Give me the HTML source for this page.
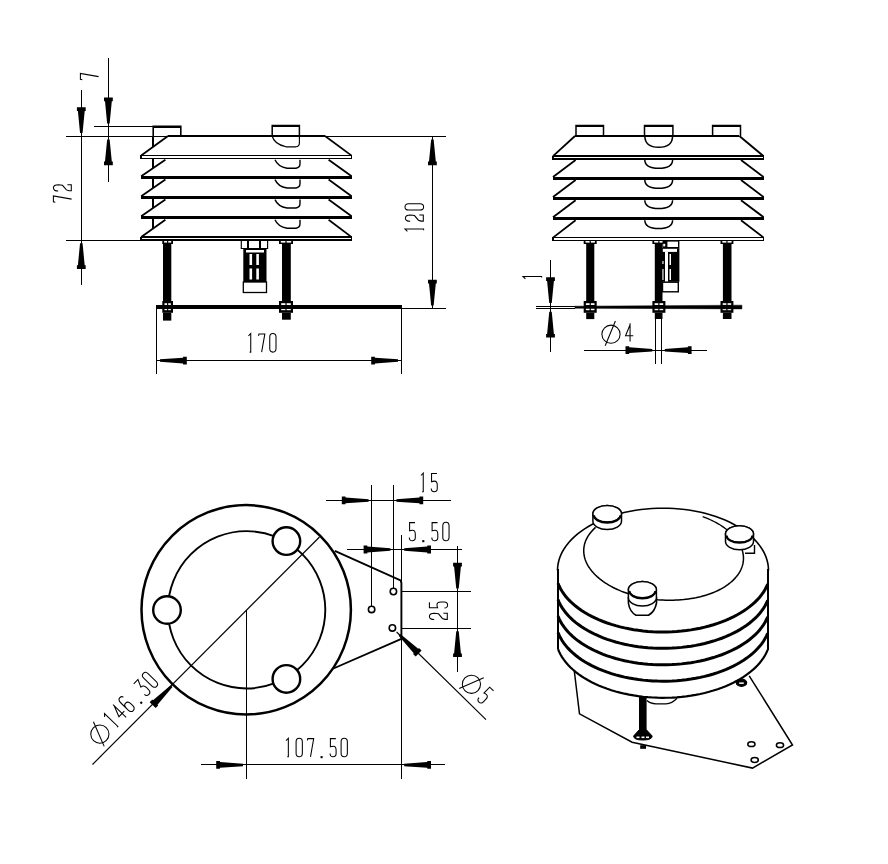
<!DOCTYPE html>
<html><head><meta charset="utf-8"><style>
html,body{margin:0;padding:0;background:#fff;font-family:"Liberation Sans",sans-serif;width:888px;height:864px;overflow:hidden}
svg{display:block}
</style></head><body>
<svg width="888" height="864" viewBox="0 0 888 864">
<rect x="0" y="0" width="888" height="864" fill="#fff"/>
<g stroke="#000" fill="none" stroke-linecap="butt" stroke-linejoin="miter">
<line x1="108.40" y1="58.00" x2="108.40" y2="181.50" stroke-width="1.15" shape-rendering="crispEdges"/>
<polygon points="109.65,123.40 111.80,101.30 112.80,101.30 112.80,97.60 104.00,97.60 104.00,101.30 105.00,101.30 107.15,123.40" fill="#000" stroke="none"/>
<polygon points="107.15,139.40 105.00,161.50 104.00,161.50 104.00,165.20 112.80,165.20 112.80,161.50 111.80,161.50 109.65,139.40" fill="#000" stroke="none"/>
<line x1="94.00" y1="126.40" x2="153.00" y2="126.40" stroke-width="1.15" shape-rendering="crispEdges"/>
<g transform="translate(80.00,80.00) rotate(-90)" stroke-width="1.05"><path d="M0,2.3 L0.5,0.4 L6.9,0.4 L3.4,18.6" transform="translate(0.25,0) scale(0.92,1)" fill="none" vector-effect="non-scaling-stroke"/></g>
<line x1="81.30" y1="90.00" x2="81.30" y2="284.80" stroke-width="1.15" shape-rendering="crispEdges"/>
<polygon points="82.55,133.00 84.70,110.90 85.70,110.90 85.70,107.20 76.90,107.20 76.90,110.90 77.90,110.90 80.05,133.00" fill="#000" stroke="none"/>
<polygon points="80.05,243.20 77.90,265.30 76.90,265.30 76.90,269.00 85.70,269.00 85.70,265.30 84.70,265.30 82.55,243.20" fill="#000" stroke="none"/>
<line x1="66.00" y1="136.30" x2="168.00" y2="136.30" stroke-width="1.15" shape-rendering="crispEdges"/>
<line x1="66.00" y1="240.20" x2="141.00" y2="240.20" stroke-width="1.15" shape-rendering="crispEdges"/>
<g transform="translate(53.00,202.50) rotate(-90)" stroke-width="1.05"><path d="M0,2.3 L0.5,0.4 L6.9,0.4 L3.4,18.6" transform="translate(0.25,0) scale(0.92,1)" fill="none" vector-effect="non-scaling-stroke"/><path d="M0,5.2 Q0,0.4 3.4,0.4 Q6.9,0.4 6.9,5.4 L6.2,9.5 L1.2,13.4 L0.2,16 L0.2,18.3 L6.9,18.3 L6.9,14.4" transform="translate(11.50,0) scale(0.92,1)" fill="none" vector-effect="non-scaling-stroke"/></g>
<path d="M153.2,136 L153.2,126.4 L180.8,126.4 L180.8,136" stroke-width="1.6" fill="none"/>
<line x1="153.50" y1="126.60" x2="180.50" y2="126.60" stroke-width="2.0" shape-rendering="crispEdges"/>
<path d="M272.2,136 L272.2,125.6 L299.4,125.6 L299.4,136" stroke-width="1.5" fill="none"/>
<line x1="272.50" y1="125.80" x2="299.10" y2="125.80" stroke-width="2.0" shape-rendering="crispEdges"/>
<path d="M272.2,136 Q274,144 286,146.8 L296,146.8 Q299.4,146.5 299.4,143 L299.4,136" stroke-width="1.15" fill="none"/>
<line x1="168.00" y1="136.00" x2="325.00" y2="136.00" stroke-width="1.6" shape-rendering="crispEdges"/>
<line x1="168.00" y1="136.00" x2="141.20" y2="155.60" stroke-width="1.8"/>
<line x1="325.00" y1="136.00" x2="351.60" y2="155.60" stroke-width="1.8"/>
<line x1="141.00" y1="155.60" x2="351.80" y2="155.60" stroke-width="1.6" shape-rendering="crispEdges"/>
<line x1="141.00" y1="158.60" x2="351.80" y2="158.60" stroke-width="1.6" shape-rendering="crispEdges"/>
<line x1="141.00" y1="155.00" x2="141.00" y2="159.20" stroke-width="1.4" shape-rendering="crispEdges"/>
<line x1="351.60" y1="155.00" x2="351.60" y2="159.20" stroke-width="1.4" shape-rendering="crispEdges"/>
<line x1="153.30" y1="158.50" x2="153.30" y2="168.00" stroke-width="1.8" shape-rendering="crispEdges"/>
<line x1="165.40" y1="159.80" x2="141.20" y2="176.20" stroke-width="1.8"/>
<line x1="328.60" y1="159.80" x2="351.60" y2="176.20" stroke-width="1.8"/>
<line x1="140.50" y1="177.60" x2="352.00" y2="177.60" stroke-width="3.3" shape-rendering="crispEdges"/>
<line x1="153.30" y1="179.10" x2="153.30" y2="187.90" stroke-width="1.8" shape-rendering="crispEdges"/>
<path d="M275,159.8 Q278,166.8 287,168.2 L296,168.2 Q300,167.8 300,163.8 L300,159.8" stroke-width="1.4" fill="none"/>
<line x1="165.40" y1="179.60" x2="141.20" y2="196.20" stroke-width="1.8"/>
<line x1="328.60" y1="179.60" x2="351.60" y2="196.20" stroke-width="1.8"/>
<line x1="140.50" y1="197.60" x2="352.00" y2="197.60" stroke-width="3.3" shape-rendering="crispEdges"/>
<line x1="153.30" y1="199.10" x2="153.30" y2="207.95" stroke-width="1.8" shape-rendering="crispEdges"/>
<path d="M275,179.6 Q278,186.6 287,188.0 L296,188.0 Q300,187.6 300,183.6 L300,179.6" stroke-width="1.4" fill="none"/>
<line x1="165.40" y1="199.60" x2="141.20" y2="216.30" stroke-width="1.8"/>
<line x1="328.60" y1="199.60" x2="351.60" y2="216.30" stroke-width="1.8"/>
<line x1="140.50" y1="217.70" x2="352.00" y2="217.70" stroke-width="3.3" shape-rendering="crispEdges"/>
<line x1="153.30" y1="219.20" x2="153.30" y2="228.45" stroke-width="1.8" shape-rendering="crispEdges"/>
<path d="M275,199.6 Q278,206.6 287,208.0 L296,208.0 Q300,207.6 300,203.6 L300,199.6" stroke-width="1.4" fill="none"/>
<line x1="165.40" y1="219.80" x2="141.20" y2="237.10" stroke-width="1.8"/>
<line x1="328.60" y1="219.80" x2="351.60" y2="237.10" stroke-width="1.8"/>
<line x1="141.00" y1="237.10" x2="351.80" y2="237.10" stroke-width="1.6" shape-rendering="crispEdges"/>
<line x1="141.00" y1="240.10" x2="351.80" y2="240.10" stroke-width="1.6" shape-rendering="crispEdges"/>
<line x1="141.00" y1="236.50" x2="141.00" y2="240.70" stroke-width="1.4" shape-rendering="crispEdges"/>
<line x1="351.60" y1="236.50" x2="351.60" y2="240.70" stroke-width="1.4" shape-rendering="crispEdges"/>
<path d="M275,219.8 Q278,226.8 287,228.2 L296,228.2 Q300,227.8 300,223.8 L300,219.8" stroke-width="1.4" fill="none"/>
<line x1="153.30" y1="136.00" x2="153.30" y2="146.60" stroke-width="1.8" shape-rendering="crispEdges"/>
<rect x="162.30" y="240.00" width="10.70" height="4.00" fill="#000" stroke="none" stroke-width="0"/>
<rect x="163.00" y="244.00" width="8.30" height="57.00" fill="#000" stroke="none" stroke-width="0"/>
<rect x="162.30" y="301.00" width="10.70" height="11.80" fill="#000" stroke="none" stroke-width="0"/>
<rect x="163.00" y="312.80" width="8.30" height="7.80" fill="#000" stroke="none" stroke-width="0"/>
<rect x="164.10" y="241.00" width="2.95" height="1.60" fill="#fff" stroke="none" stroke-width="0"/>
<rect x="168.25" y="241.00" width="2.95" height="1.60" fill="#fff" stroke="none" stroke-width="0"/>
<rect x="164.50" y="303.20" width="2.55" height="1.80" fill="#fff" stroke="none" stroke-width="0"/>
<rect x="168.25" y="303.20" width="2.55" height="1.80" fill="#fff" stroke="none" stroke-width="0"/>
<rect x="164.50" y="308.40" width="2.55" height="1.80" fill="#fff" stroke="none" stroke-width="0"/>
<rect x="168.25" y="308.40" width="2.55" height="1.80" fill="#fff" stroke="none" stroke-width="0"/>
<rect x="279.00" y="240.00" width="14.00" height="4.00" fill="#000" stroke="none" stroke-width="0"/>
<rect x="282.00" y="244.00" width="8.80" height="57.00" fill="#000" stroke="none" stroke-width="0"/>
<rect x="279.00" y="301.00" width="14.00" height="11.80" fill="#000" stroke="none" stroke-width="0"/>
<rect x="282.00" y="312.80" width="8.80" height="6.90" fill="#000" stroke="none" stroke-width="0"/>
<rect x="280.80" y="241.00" width="4.60" height="1.60" fill="#fff" stroke="none" stroke-width="0"/>
<rect x="286.60" y="241.00" width="4.60" height="1.60" fill="#fff" stroke="none" stroke-width="0"/>
<rect x="281.20" y="303.20" width="4.20" height="1.80" fill="#fff" stroke="none" stroke-width="0"/>
<rect x="286.60" y="303.20" width="4.20" height="1.80" fill="#fff" stroke="none" stroke-width="0"/>
<rect x="281.20" y="308.40" width="4.20" height="1.80" fill="#fff" stroke="none" stroke-width="0"/>
<rect x="286.60" y="308.40" width="4.20" height="1.80" fill="#fff" stroke="none" stroke-width="0"/>
<path d="M241.3,240 L241.3,248.5 L267.6,248.5 L267.6,240" stroke-width="1.15" fill="none"/>
<line x1="248.00" y1="240.00" x2="248.00" y2="248.50" stroke-width="1.15" shape-rendering="crispEdges"/>
<line x1="260.00" y1="240.00" x2="260.00" y2="248.50" stroke-width="1.15" shape-rendering="crispEdges"/>
<rect x="243.30" y="248.50" width="23.20" height="34.00" fill="#000" stroke="none" stroke-width="0"/>
<rect x="243.30" y="282.00" width="23.20" height="10.50" fill="#fff" stroke="#000" stroke-width="1.3"/>
<rect x="249.50" y="254.00" width="2.60" height="11.00" fill="#fff" stroke="none" stroke-width="0"/>
<rect x="256.30" y="254.00" width="2.60" height="11.00" fill="#fff" stroke="none" stroke-width="0"/>
<rect x="249.50" y="268.50" width="2.60" height="11.00" fill="#fff" stroke="none" stroke-width="0"/>
<rect x="256.30" y="268.50" width="2.60" height="11.00" fill="#fff" stroke="none" stroke-width="0"/>
<rect x="246.00" y="250.00" width="18.00" height="2.50" fill="#fff" stroke="none" stroke-width="0"/>
<line x1="155.60" y1="307.00" x2="401.80" y2="307.00" stroke-width="3.6" shape-rendering="crispEdges"/>
<line x1="325.00" y1="136.40" x2="446.00" y2="136.40" stroke-width="1.15" shape-rendering="crispEdges"/>
<line x1="401.80" y1="308.30" x2="446.00" y2="308.30" stroke-width="1.15" shape-rendering="crispEdges"/>
<line x1="432.40" y1="136.40" x2="432.40" y2="308.30" stroke-width="1.15" shape-rendering="crispEdges"/>
<polygon points="431.15,139.40 429.00,161.50 428.00,161.50 428.00,165.20 436.80,165.20 436.80,161.50 435.80,161.50 433.65,139.40" fill="#000" stroke="none"/>
<polygon points="433.65,305.50 435.80,283.40 436.80,283.40 436.80,279.70 428.00,279.70 428.00,283.40 429.00,283.40 431.15,305.50" fill="#000" stroke="none"/>
<g transform="translate(405.00,232.80) rotate(-90)" stroke-width="1.05"><path d="M1.3,2.4 L3.8,0 L3.8,18.6 L2.6,18.6" transform="translate(0.25,0) scale(0.92,1)" fill="none" vector-effect="non-scaling-stroke"/><path d="M0,5.2 Q0,0.4 3.4,0.4 Q6.9,0.4 6.9,5.4 L6.2,9.5 L1.2,13.4 L0.2,16 L0.2,18.3 L6.9,18.3 L6.9,14.4" transform="translate(11.50,0) scale(0.92,1)" fill="none" vector-effect="non-scaling-stroke"/><path d="M0,3.6 Q0,0 3.4,0 Q6.8,0 6.8,3.6 L6.8,15 Q6.8,18.6 3.4,18.6 Q0,18.6 0,15 Z" transform="translate(22.75,0) scale(0.92,1)" fill="none" vector-effect="non-scaling-stroke"/></g>
<line x1="156.80" y1="307.00" x2="156.80" y2="373.60" stroke-width="1.15" shape-rendering="crispEdges"/>
<line x1="401.50" y1="308.00" x2="401.50" y2="373.60" stroke-width="1.15" shape-rendering="crispEdges"/>
<line x1="156.80" y1="360.60" x2="401.50" y2="360.60" stroke-width="1.15" shape-rendering="crispEdges"/>
<polygon points="160.00,361.85 183.10,363.50 183.10,364.50 186.80,364.50 186.80,356.70 183.10,356.70 183.10,357.70 160.00,359.35" fill="#000" stroke="none"/>
<polygon points="398.00,359.35 374.90,357.70 374.90,356.70 371.20,356.70 371.20,364.50 374.90,364.50 374.90,363.50 398.00,361.85" fill="#000" stroke="none"/>
<g transform="translate(247.00,333.50) rotate(0)" stroke-width="1.05"><path d="M1.3,2.4 L3.8,0 L3.8,18.6 L2.6,18.6" transform="translate(0.25,0) scale(0.92,1)" fill="none" vector-effect="non-scaling-stroke"/><path d="M0,2.3 L0.5,0.4 L6.9,0.4 L3.4,18.6" transform="translate(11.50,0) scale(0.92,1)" fill="none" vector-effect="non-scaling-stroke"/><path d="M0,3.6 Q0,0 3.4,0 Q6.8,0 6.8,3.6 L6.8,15 Q6.8,18.6 3.4,18.6 Q0,18.6 0,15 Z" transform="translate(22.75,0) scale(0.92,1)" fill="none" vector-effect="non-scaling-stroke"/></g>
<path d="M576,136 L576,125.6 L603.5,125.6 L603.5,136" stroke-width="1.5" fill="none"/>
<line x1="576.30" y1="125.80" x2="603.20" y2="125.80" stroke-width="2.0" shape-rendering="crispEdges"/>
<path d="M644.5,136 L644.5,125.6 L672.9,125.6 L672.9,136" stroke-width="1.5" fill="none"/>
<line x1="644.80" y1="125.80" x2="672.60" y2="125.80" stroke-width="2.0" shape-rendering="crispEdges"/>
<path d="M712.6,136 L712.6,125.6 L740.5,125.6 L740.5,136" stroke-width="1.5" fill="none"/>
<line x1="712.90" y1="125.80" x2="740.20" y2="125.80" stroke-width="2.0" shape-rendering="crispEdges"/>
<line x1="575.00" y1="136.00" x2="739.40" y2="136.00" stroke-width="1.6" shape-rendering="crispEdges"/>
<line x1="575.00" y1="136.00" x2="553.00" y2="156.20" stroke-width="1.8"/>
<line x1="739.40" y1="136.00" x2="763.60" y2="156.20" stroke-width="1.8"/>
<line x1="553.00" y1="156.20" x2="763.80" y2="156.20" stroke-width="1.6" shape-rendering="crispEdges"/>
<line x1="553.00" y1="159.20" x2="763.80" y2="159.20" stroke-width="1.6" shape-rendering="crispEdges"/>
<line x1="553.00" y1="155.60" x2="553.00" y2="159.80" stroke-width="1.4" shape-rendering="crispEdges"/>
<line x1="763.60" y1="155.60" x2="763.60" y2="159.80" stroke-width="1.4" shape-rendering="crispEdges"/>
<path d="M644.8,136.0 Q645,147.3 658.7,147.3 Q672.5,147.3 672.6,136.0" stroke-width="1.5" fill="none"/>
<line x1="575.60" y1="160.00" x2="553.00" y2="177.00" stroke-width="1.8"/>
<line x1="741.00" y1="160.00" x2="763.60" y2="177.00" stroke-width="1.8"/>
<line x1="552.50" y1="178.40" x2="764.00" y2="178.40" stroke-width="3.3" shape-rendering="crispEdges"/>
<path d="M644.8,160.0 Q645,168.3 658.7,168.3 Q672.5,168.3 672.6,160.0" stroke-width="1.5" fill="none"/>
<line x1="575.60" y1="180.00" x2="553.00" y2="197.00" stroke-width="1.8"/>
<line x1="741.00" y1="180.00" x2="763.60" y2="197.00" stroke-width="1.8"/>
<line x1="552.50" y1="198.40" x2="764.00" y2="198.40" stroke-width="3.3" shape-rendering="crispEdges"/>
<path d="M644.8,180.0 Q645,188.3 658.7,188.3 Q672.5,188.3 672.6,180.0" stroke-width="1.5" fill="none"/>
<line x1="575.60" y1="200.20" x2="553.00" y2="217.20" stroke-width="1.8"/>
<line x1="741.00" y1="200.20" x2="763.60" y2="217.20" stroke-width="1.8"/>
<line x1="552.50" y1="218.60" x2="764.00" y2="218.60" stroke-width="3.3" shape-rendering="crispEdges"/>
<path d="M644.8,200.2 Q645,208.5 658.7,208.5 Q672.5,208.5 672.6,200.2" stroke-width="1.5" fill="none"/>
<line x1="575.60" y1="220.20" x2="553.00" y2="237.60" stroke-width="1.8"/>
<line x1="741.00" y1="220.20" x2="763.60" y2="237.60" stroke-width="1.8"/>
<line x1="553.00" y1="237.60" x2="763.80" y2="237.60" stroke-width="1.6" shape-rendering="crispEdges"/>
<line x1="553.00" y1="240.60" x2="763.80" y2="240.60" stroke-width="1.6" shape-rendering="crispEdges"/>
<line x1="553.00" y1="237.00" x2="553.00" y2="241.20" stroke-width="1.4" shape-rendering="crispEdges"/>
<line x1="763.60" y1="237.00" x2="763.60" y2="241.20" stroke-width="1.4" shape-rendering="crispEdges"/>
<path d="M644.8,220.2 Q645,228.5 658.7,228.5 Q672.5,228.5 672.6,220.2" stroke-width="1.5" fill="none"/>
<rect x="583.70" y="240.00" width="13.00" height="4.00" fill="#000" stroke="none" stroke-width="0"/>
<rect x="586.20" y="244.00" width="8.10" height="57.00" fill="#000" stroke="none" stroke-width="0"/>
<rect x="583.70" y="301.00" width="13.00" height="11.80" fill="#000" stroke="none" stroke-width="0"/>
<rect x="586.20" y="312.80" width="8.10" height="6.30" fill="#000" stroke="none" stroke-width="0"/>
<rect x="585.50" y="241.00" width="4.10" height="1.60" fill="#fff" stroke="none" stroke-width="0"/>
<rect x="590.80" y="241.00" width="4.10" height="1.60" fill="#fff" stroke="none" stroke-width="0"/>
<rect x="585.90" y="303.20" width="3.70" height="1.80" fill="#fff" stroke="none" stroke-width="0"/>
<rect x="590.80" y="303.20" width="3.70" height="1.80" fill="#fff" stroke="none" stroke-width="0"/>
<rect x="585.90" y="308.40" width="3.70" height="1.80" fill="#fff" stroke="none" stroke-width="0"/>
<rect x="590.80" y="308.40" width="3.70" height="1.80" fill="#fff" stroke="none" stroke-width="0"/>
<rect x="652.40" y="240.00" width="13.00" height="4.00" fill="#000" stroke="none" stroke-width="0"/>
<rect x="654.80" y="244.00" width="7.70" height="57.00" fill="#000" stroke="none" stroke-width="0"/>
<rect x="652.40" y="301.00" width="13.00" height="11.80" fill="#000" stroke="none" stroke-width="0"/>
<rect x="654.80" y="312.80" width="7.70" height="6.20" fill="#000" stroke="none" stroke-width="0"/>
<rect x="654.20" y="241.00" width="4.10" height="1.60" fill="#fff" stroke="none" stroke-width="0"/>
<rect x="659.50" y="241.00" width="4.10" height="1.60" fill="#fff" stroke="none" stroke-width="0"/>
<rect x="654.60" y="303.20" width="3.70" height="1.80" fill="#fff" stroke="none" stroke-width="0"/>
<rect x="659.50" y="303.20" width="3.70" height="1.80" fill="#fff" stroke="none" stroke-width="0"/>
<rect x="654.60" y="308.40" width="3.70" height="1.80" fill="#fff" stroke="none" stroke-width="0"/>
<rect x="659.50" y="308.40" width="3.70" height="1.80" fill="#fff" stroke="none" stroke-width="0"/>
<rect x="720.50" y="240.00" width="12.90" height="4.00" fill="#000" stroke="none" stroke-width="0"/>
<rect x="722.90" y="244.00" width="8.60" height="57.00" fill="#000" stroke="none" stroke-width="0"/>
<rect x="720.50" y="301.00" width="12.90" height="11.80" fill="#000" stroke="none" stroke-width="0"/>
<rect x="722.90" y="312.80" width="8.60" height="6.20" fill="#000" stroke="none" stroke-width="0"/>
<rect x="722.30" y="241.00" width="4.05" height="1.60" fill="#fff" stroke="none" stroke-width="0"/>
<rect x="727.55" y="241.00" width="4.05" height="1.60" fill="#fff" stroke="none" stroke-width="0"/>
<rect x="722.70" y="303.20" width="3.65" height="1.80" fill="#fff" stroke="none" stroke-width="0"/>
<rect x="727.55" y="303.20" width="3.65" height="1.80" fill="#fff" stroke="none" stroke-width="0"/>
<rect x="722.70" y="308.40" width="3.65" height="1.80" fill="#fff" stroke="none" stroke-width="0"/>
<rect x="727.55" y="308.40" width="3.65" height="1.80" fill="#fff" stroke="none" stroke-width="0"/>
<rect x="662.50" y="240.00" width="4.50" height="8.50" fill="#000" stroke="none" stroke-width="0"/>
<rect x="663.20" y="243.80" width="2.00" height="2.60" fill="#fff" stroke="none" stroke-width="0"/>
<rect x="666.70" y="240.90" width="12.00" height="6.80" fill="#fff" stroke="#000" stroke-width="1.4"/>
<rect x="661.80" y="248.20" width="17.60" height="33.60" fill="#000" stroke="none" stroke-width="0"/>
<rect x="662.80" y="248.90" width="14.20" height="3.00" fill="#fff" stroke="none" stroke-width="0"/>
<rect x="665.00" y="252.00" width="3.00" height="29.80" fill="#fff" stroke="none" stroke-width="0"/>
<rect x="662.40" y="261.00" width="1.10" height="3.00" fill="#fff" stroke="none" stroke-width="0"/>
<rect x="662.40" y="269.00" width="1.10" height="11.00" fill="#fff" stroke="none" stroke-width="0"/>
<rect x="669.50" y="254.00" width="1.50" height="11.00" fill="#fff" stroke="none" stroke-width="0"/>
<rect x="669.50" y="269.00" width="1.50" height="11.00" fill="#fff" stroke="none" stroke-width="0"/>
<rect x="662.50" y="282.20" width="15.80" height="9.60" fill="#fff" stroke="#000" stroke-width="1.4"/>
<path d="M575,306.2 L741.9,305.2 L741.9,308.9 L575,308.2 Z" stroke-width="0.5" fill="#000"/>
<line x1="536.00" y1="306.20" x2="575.00" y2="306.20" stroke-width="1.15" shape-rendering="crispEdges"/>
<line x1="536.00" y1="308.60" x2="575.00" y2="308.60" stroke-width="1.15" shape-rendering="crispEdges"/>
<line x1="550.50" y1="260.00" x2="550.50" y2="352.40" stroke-width="1.15" shape-rendering="crispEdges"/>
<polygon points="551.75,303.00 553.90,280.90 554.90,280.90 554.90,277.20 546.10,277.20 546.10,280.90 547.10,280.90 549.25,303.00" fill="#000" stroke="none"/>
<polygon points="549.25,311.80 547.10,333.90 546.10,333.90 546.10,337.60 554.90,337.60 554.90,333.90 553.90,333.90 551.75,311.80" fill="#000" stroke="none"/>
<g transform="translate(523.00,280.20) rotate(-90)" stroke-width="1.05"><path d="M1.3,2.4 L3.8,0 L3.8,18.6 L2.6,18.6" transform="translate(0.25,0) scale(0.92,1)" fill="none" vector-effect="non-scaling-stroke"/></g>
<line x1="655.30" y1="319.00" x2="655.30" y2="363.70" stroke-width="1.15" shape-rendering="crispEdges"/>
<line x1="661.80" y1="319.00" x2="661.80" y2="363.70" stroke-width="1.15" shape-rendering="crispEdges"/>
<line x1="584.20" y1="350.20" x2="706.70" y2="350.20" stroke-width="1.15" shape-rendering="crispEdges"/>
<polygon points="652.30,348.95 629.20,347.30 629.20,346.30 625.50,346.30 625.50,354.10 629.20,354.10 629.20,353.10 652.30,351.45" fill="#000" stroke="none"/>
<polygon points="664.80,351.45 687.90,353.10 687.90,354.10 691.60,354.10 691.60,346.30 687.90,346.30 687.90,347.30 664.80,348.95" fill="#000" stroke="none"/>
<g transform="translate(602.00,323.20) rotate(0)" stroke-width="1.05"><circle cx="9.00" cy="11" r="9.1" fill="none"/><path d="M3.20,22.6 L13.40,-2.2" fill="none"/><path d="M4.9,0 L4.9,18.3 M4.9,1.6 L0,12.6 L8.4,12.6" transform="translate(23.55,0) scale(0.92,1)" fill="none" vector-effect="non-scaling-stroke"/></g>
<circle cx="246.20" cy="609.80" r="104.70" stroke-width="2.5" fill="none"/>
<circle cx="246.60" cy="609.80" r="78.70" stroke-width="1.9" fill="none"/>
<circle cx="286.40" cy="541.06" r="13.8" stroke-width="2.4" fill="#fff"/>
<circle cx="167.00" cy="610.00" r="13.8" stroke-width="2.4" fill="#fff"/>
<circle cx="286.40" cy="678.94" r="13.8" stroke-width="2.4" fill="#fff"/>
<line x1="246.10" y1="610.00" x2="246.10" y2="779.40" stroke-width="1.15" shape-rendering="crispEdges"/>
<line x1="319.50" y1="537.00" x2="92.50" y2="764.50" stroke-width="1.15"/>
<path d="M334.8,550.8 L400.6,580.4 L401.4,583 L401.4,638.8 L333.4,668.5" stroke-width="1.9" fill="none"/>
<circle cx="393.40" cy="591.50" r="3.20" stroke-width="1.6" fill="none"/>
<circle cx="371.60" cy="609.40" r="3.20" stroke-width="1.6" fill="none"/>
<circle cx="392.40" cy="627.90" r="3.20" stroke-width="1.6" fill="none"/>
<line x1="371.60" y1="485.30" x2="371.60" y2="606.00" stroke-width="1.15" shape-rendering="crispEdges"/>
<line x1="393.40" y1="485.30" x2="393.40" y2="588.30" stroke-width="1.15" shape-rendering="crispEdges"/>
<line x1="401.20" y1="535.10" x2="401.20" y2="779.40" stroke-width="1.15" shape-rendering="crispEdges"/>
<line x1="326.00" y1="500.40" x2="450.60" y2="500.40" stroke-width="1.15" shape-rendering="crispEdges"/>
<polygon points="368.60,499.15 345.50,497.50 345.50,496.50 341.80,496.50 341.80,504.30 345.50,504.30 345.50,503.30 368.60,501.65" fill="#000" stroke="none"/>
<polygon points="396.40,501.65 419.50,503.30 419.50,504.30 423.20,504.30 423.20,496.50 419.50,496.50 419.50,497.50 396.40,499.15" fill="#000" stroke="none"/>
<g transform="translate(419.50,473.10) rotate(0)" stroke-width="1.05"><path d="M1.3,2.4 L3.8,0 L3.8,18.6 L2.6,18.6" transform="translate(0.25,0) scale(0.92,1)" fill="none" vector-effect="non-scaling-stroke"/><path d="M6.5,0.4 L0.6,0.4 L0.6,8.6 Q2,8 3.8,8 Q6.8,8 6.8,12 L6.8,15.3 Q6.8,18.6 3.5,18.6 Q0.3,18.6 0.3,15.4" transform="translate(11.50,0) scale(0.92,1)" fill="none" vector-effect="non-scaling-stroke"/></g>
<line x1="346.90" y1="549.50" x2="462.00" y2="549.50" stroke-width="1.15" shape-rendering="crispEdges"/>
<polygon points="390.40,548.25 367.30,546.60 367.30,545.60 363.60,545.60 363.60,553.40 367.30,553.40 367.30,552.40 390.40,550.75" fill="#000" stroke="none"/>
<polygon points="404.20,550.75 427.30,552.40 427.30,553.40 431.00,553.40 431.00,545.60 427.30,545.60 427.30,546.60 404.20,548.25" fill="#000" stroke="none"/>
<g transform="translate(408.80,522.20) rotate(0)" stroke-width="1.05"><path d="M6.5,0.4 L0.6,0.4 L0.6,8.6 Q2,8 3.8,8 Q6.8,8 6.8,12 L6.8,15.3 Q6.8,18.6 3.5,18.6 Q0.3,18.6 0.3,15.4" transform="translate(0.25,0) scale(0.92,1)" fill="none" vector-effect="non-scaling-stroke"/><rect x="13.45" y="17.9" width="2.1" height="2.1" fill="#000" stroke="none"/><path d="M6.5,0.4 L0.6,0.4 L0.6,8.6 Q2,8 3.8,8 Q6.8,8 6.8,12 L6.8,15.3 Q6.8,18.6 3.5,18.6 Q0.3,18.6 0.3,15.4" transform="translate(22.75,0) scale(0.92,1)" fill="none" vector-effect="non-scaling-stroke"/><path d="M0,3.6 Q0,0 3.4,0 Q6.8,0 6.8,3.6 L6.8,15 Q6.8,18.6 3.4,18.6 Q0,18.6 0,15 Z" transform="translate(34.00,0) scale(0.92,1)" fill="none" vector-effect="non-scaling-stroke"/></g>
<line x1="401.00" y1="591.50" x2="471.00" y2="591.50" stroke-width="1.15" shape-rendering="crispEdges"/>
<line x1="401.00" y1="628.30" x2="471.00" y2="628.30" stroke-width="1.15" shape-rendering="crispEdges"/>
<line x1="457.50" y1="546.40" x2="457.50" y2="672.30" stroke-width="1.15" shape-rendering="crispEdges"/>
<polygon points="458.75,588.50 460.90,566.40 461.90,566.40 461.90,562.70 453.10,562.70 453.10,566.40 454.10,566.40 456.25,588.50" fill="#000" stroke="none"/>
<polygon points="456.25,631.30 454.10,653.40 453.10,653.40 453.10,657.10 461.90,657.10 461.90,653.40 460.90,653.40 458.75,631.30" fill="#000" stroke="none"/>
<g transform="translate(429.00,619.80) rotate(-90)" stroke-width="1.05"><path d="M0,5.2 Q0,0.4 3.4,0.4 Q6.9,0.4 6.9,5.4 L6.2,9.5 L1.2,13.4 L0.2,16 L0.2,18.3 L6.9,18.3 L6.9,14.4" transform="translate(0.25,0) scale(0.92,1)" fill="none" vector-effect="non-scaling-stroke"/><path d="M6.5,0.4 L0.6,0.4 L0.6,8.6 Q2,8 3.8,8 Q6.8,8 6.8,12 L6.8,15.3 Q6.8,18.6 3.5,18.6 Q0.3,18.6 0.3,15.4" transform="translate(11.50,0) scale(0.92,1)" fill="none" vector-effect="non-scaling-stroke"/></g>
<line x1="396.60" y1="632.00" x2="486.00" y2="719.60" stroke-width="1.15"/>
<polygon points="398.63,635.69 413.76,653.25 413.06,653.97 415.70,656.56 421.58,650.56 418.94,647.97 418.24,648.68 400.37,633.91" fill="#000" stroke="none"/>
<g transform="translate(472.60,670.10) rotate(44)" stroke-width="1.05"><circle cx="9.00" cy="11" r="9.1" fill="none"/><path d="M3.20,22.6 L13.40,-2.2" fill="none"/><path d="M6.5,0.4 L0.6,0.4 L0.6,8.6 Q2,8 3.8,8 Q6.8,8 6.8,12 L6.8,15.3 Q6.8,18.6 3.5,18.6 Q0.3,18.6 0.3,15.4" transform="translate(23.55,0) scale(0.92,1)" fill="none" vector-effect="non-scaling-stroke"/></g>
<line x1="200.80" y1="764.90" x2="445.20" y2="764.90" stroke-width="1.15" shape-rendering="crispEdges"/>
<polygon points="243.00,763.65 219.90,762.00 219.90,761.00 216.20,761.00 216.20,768.80 219.90,768.80 219.90,767.80 243.00,766.15" fill="#000" stroke="none"/>
<polygon points="404.20,766.15 427.30,767.80 427.30,768.80 431.00,768.80 431.00,761.00 427.30,761.00 427.30,762.00 404.20,763.65" fill="#000" stroke="none"/>
<g transform="translate(284.60,738.20) rotate(0)" stroke-width="1.05"><path d="M1.3,2.4 L3.8,0 L3.8,18.6 L2.6,18.6" transform="translate(0.25,0) scale(0.92,1)" fill="none" vector-effect="non-scaling-stroke"/><path d="M0,3.6 Q0,0 3.4,0 Q6.8,0 6.8,3.6 L6.8,15 Q6.8,18.6 3.4,18.6 Q0,18.6 0,15 Z" transform="translate(11.50,0) scale(0.92,1)" fill="none" vector-effect="non-scaling-stroke"/><path d="M0,2.3 L0.5,0.4 L6.9,0.4 L3.4,18.6" transform="translate(22.75,0) scale(0.92,1)" fill="none" vector-effect="non-scaling-stroke"/><rect x="35.95" y="17.9" width="2.1" height="2.1" fill="#000" stroke="none"/><path d="M6.5,0.4 L0.6,0.4 L0.6,8.6 Q2,8 3.8,8 Q6.8,8 6.8,12 L6.8,15.3 Q6.8,18.6 3.5,18.6 Q0.3,18.6 0.3,15.4" transform="translate(45.25,0) scale(0.92,1)" fill="none" vector-effect="non-scaling-stroke"/><path d="M0,3.6 Q0,0 3.4,0 Q6.8,0 6.8,3.6 L6.8,15 Q6.8,18.6 3.4,18.6 Q0,18.6 0,15 Z" transform="translate(56.50,0) scale(0.92,1)" fill="none" vector-effect="non-scaling-stroke"/></g>
<polygon points="170.72,685.32 153.00,700.27 152.30,699.56 149.68,702.18 155.62,708.12 158.24,705.50 157.53,704.80 172.48,687.08" fill="#000" stroke="none"/>
<g transform="translate(85.70,733.00) rotate(-46)" stroke-width="1.05"><circle cx="9.00" cy="11" r="9.1" fill="none"/><path d="M3.20,22.6 L13.40,-2.2" fill="none"/><path d="M1.3,2.4 L3.8,0 L3.8,18.6 L2.6,18.6" transform="translate(23.55,0) scale(0.92,1)" fill="none" vector-effect="non-scaling-stroke"/><path d="M4.9,0 L4.9,18.3 M4.9,1.6 L0,12.6 L8.4,12.6" transform="translate(34.80,0) scale(0.92,1)" fill="none" vector-effect="non-scaling-stroke"/><path d="M6.5,2.2 Q6,0 3.4,0 Q0,0 0,4.5 L0,14.6 Q0,18.6 3.4,18.6 Q6.9,18.6 6.9,14.6 L6.9,12 Q6.9,8 3.4,8 Q0,8 0,12" transform="translate(46.05,0) scale(0.92,1)" fill="none" vector-effect="non-scaling-stroke"/><rect x="59.25" y="17.9" width="2.1" height="2.1" fill="#000" stroke="none"/><path d="M0.2,0.4 L6.8,0.4 L3,7.8 Q6.9,7.8 6.9,12.4 L6.9,15 Q6.9,18.6 3.4,18.6 Q0,18.6 0,15.4" transform="translate(68.55,0) scale(0.92,1)" fill="none" vector-effect="non-scaling-stroke"/><path d="M0,3.6 Q0,0 3.4,0 Q6.8,0 6.8,3.6 L6.8,15 Q6.8,18.6 3.4,18.6 Q0,18.6 0,15 Z" transform="translate(79.80,0) scale(0.92,1)" fill="none" vector-effect="non-scaling-stroke"/></g>
<path d="M557.50,570.50 L557.64,567.24 L558.08,563.99 L558.80,560.75 L559.81,557.55 L561.09,554.38 L562.66,551.25 L564.51,548.17 L566.62,545.16 L569.00,542.22 L571.63,539.35 L574.52,536.57 L577.65,533.88 L581.01,531.29 L584.60,528.81 L588.40,526.45 L592.41,524.20 L596.61,522.08 L600.99,520.10 L605.54,518.25 L610.25,516.55 L615.10,514.99 L620.09,513.59 L625.19,512.34 L630.40,511.25 L635.69,510.32 L641.07,509.56 L646.50,508.97 L651.97,508.54 L657.48,508.29 L663.00,508.20 L668.52,508.29 L674.03,508.54 L679.50,508.97 L684.93,509.56 L690.31,510.32 L695.60,511.25 L700.81,512.34 L705.91,513.59 L710.90,514.99 L715.75,516.55 L720.46,518.25 L725.01,520.10 L729.39,522.08 L733.59,524.20 L737.60,526.45 L741.40,528.81 L744.99,531.29 L748.35,533.88 L751.48,536.57 L754.37,539.35 L757.00,542.22 L759.38,545.16 L761.49,548.17 L763.34,551.25 L764.91,554.38 L766.19,557.55 L767.20,560.75 L767.92,563.99 L768.36,567.24 L768.50,570.50" stroke-width="1.6" fill="none"/>
<line x1="558.00" y1="568.50" x2="558.00" y2="649.00" stroke-width="2.0" shape-rendering="crispEdges"/>
<line x1="767.70" y1="568.50" x2="767.70" y2="650.00" stroke-width="2.0" shape-rendering="crispEdges"/>
<path d="M767.70,584.06 L766.50,586.76 L765.09,589.42 L763.47,592.05 L761.65,594.63 L759.64,597.16 L757.42,599.64 L755.02,602.05 L752.43,604.41 L749.66,606.69 L746.71,608.90 L743.60,611.03 L740.32,613.08 L736.88,615.04 L733.30,616.90 L729.58,618.68 L725.72,620.36 L721.73,621.93 L717.63,623.40 L713.41,624.76 L709.09,626.01 L704.68,627.15 L700.19,628.17 L695.62,629.08 L690.98,629.86 L686.29,630.53 L681.55,631.07 L676.78,631.49 L671.97,631.78 L667.15,631.95 L662.32,632.00 L657.49,631.92 L652.67,631.71 L647.88,631.38 L643.11,630.93 L638.38,630.35 L633.70,629.65 L629.09,628.83 L624.54,627.90 L620.07,626.84 L615.68,625.67 L611.39,624.39 L607.21,623.00 L603.14,621.50 L599.18,619.89 L595.36,618.19 L591.68,616.39 L588.13,614.49 L584.74,612.51 L581.51,610.44 L578.44,608.28 L575.55,606.05 L572.83,603.75 L570.29,601.38 L567.94,598.95 L565.78,596.45 L563.81,593.91 L562.05,591.31 L560.49,588.68 L559.14,586.00 L558.00,583.29" stroke-width="3.0" fill="none"/>
<path d="M767.70,600.36 L766.50,603.06 L765.09,605.72 L763.47,608.35 L761.65,610.93 L759.64,613.46 L757.42,615.94 L755.02,618.35 L752.43,620.71 L749.66,622.99 L746.71,625.20 L743.60,627.33 L740.32,629.38 L736.88,631.34 L733.30,633.20 L729.58,634.98 L725.72,636.66 L721.73,638.23 L717.63,639.70 L713.41,641.06 L709.09,642.31 L704.68,643.45 L700.19,644.47 L695.62,645.38 L690.98,646.16 L686.29,646.83 L681.55,647.37 L676.78,647.79 L671.97,648.08 L667.15,648.25 L662.32,648.30 L657.49,648.22 L652.67,648.01 L647.88,647.68 L643.11,647.23 L638.38,646.65 L633.70,645.95 L629.09,645.13 L624.54,644.20 L620.07,643.14 L615.68,641.97 L611.39,640.69 L607.21,639.30 L603.14,637.80 L599.18,636.19 L595.36,634.49 L591.68,632.69 L588.13,630.79 L584.74,628.81 L581.51,626.74 L578.44,624.58 L575.55,622.35 L572.83,620.05 L570.29,617.68 L567.94,615.25 L565.78,612.75 L563.81,610.21 L562.05,607.61 L560.49,604.98 L559.14,602.30 L558.00,599.59" stroke-width="3.0" fill="none"/>
<path d="M767.70,616.86 L766.50,619.56 L765.09,622.22 L763.47,624.85 L761.65,627.43 L759.64,629.96 L757.42,632.44 L755.02,634.85 L752.43,637.21 L749.66,639.49 L746.71,641.70 L743.60,643.83 L740.32,645.88 L736.88,647.84 L733.30,649.70 L729.58,651.48 L725.72,653.16 L721.73,654.73 L717.63,656.20 L713.41,657.56 L709.09,658.81 L704.68,659.95 L700.19,660.97 L695.62,661.88 L690.98,662.66 L686.29,663.33 L681.55,663.87 L676.78,664.29 L671.97,664.58 L667.15,664.75 L662.32,664.80 L657.49,664.72 L652.67,664.51 L647.88,664.18 L643.11,663.73 L638.38,663.15 L633.70,662.45 L629.09,661.63 L624.54,660.70 L620.07,659.64 L615.68,658.47 L611.39,657.19 L607.21,655.80 L603.14,654.30 L599.18,652.69 L595.36,650.99 L591.68,649.19 L588.13,647.29 L584.74,645.31 L581.51,643.24 L578.44,641.08 L575.55,638.85 L572.83,636.55 L570.29,634.18 L567.94,631.75 L565.78,629.25 L563.81,626.71 L562.05,624.11 L560.49,621.48 L559.14,618.80 L558.00,616.09" stroke-width="3.0" fill="none"/>
<path d="M767.70,633.26 L766.50,635.96 L765.09,638.62 L763.47,641.25 L761.65,643.83 L759.64,646.36 L757.42,648.84 L755.02,651.25 L752.43,653.61 L749.66,655.89 L746.71,658.10 L743.60,660.23 L740.32,662.28 L736.88,664.24 L733.30,666.10 L729.58,667.88 L725.72,669.56 L721.73,671.13 L717.63,672.60 L713.41,673.96 L709.09,675.21 L704.68,676.35 L700.19,677.37 L695.62,678.28 L690.98,679.06 L686.29,679.73 L681.55,680.27 L676.78,680.69 L671.97,680.98 L667.15,681.15 L662.32,681.20 L657.49,681.12 L652.67,680.91 L647.88,680.58 L643.11,680.13 L638.38,679.55 L633.70,678.85 L629.09,678.03 L624.54,677.10 L620.07,676.04 L615.68,674.87 L611.39,673.59 L607.21,672.20 L603.14,670.70 L599.18,669.09 L595.36,667.39 L591.68,665.59 L588.13,663.69 L584.74,661.71 L581.51,659.64 L578.44,657.48 L575.55,655.25 L572.83,652.95 L570.29,650.58 L567.94,648.15 L565.78,645.65 L563.81,643.11 L562.05,640.51 L560.49,637.88 L559.14,635.20 L558.00,632.49" stroke-width="3.0" fill="none"/>
<path d="M767.70,649.86 L766.50,652.56 L765.09,655.22 L763.47,657.85 L761.65,660.43 L759.64,662.96 L757.42,665.44 L755.02,667.85 L752.43,670.21 L749.66,672.49 L746.71,674.70 L743.60,676.83 L740.32,678.88 L736.88,680.84 L733.30,682.70 L729.58,684.48 L725.72,686.16 L721.73,687.73 L717.63,689.20 L713.41,690.56 L709.09,691.81 L704.68,692.95 L700.19,693.97 L695.62,694.88 L690.98,695.66 L686.29,696.33 L681.55,696.87 L676.78,697.29 L671.97,697.58 L667.15,697.75 L662.32,697.80 L657.49,697.72 L652.67,697.51 L647.88,697.18 L643.11,696.73 L638.38,696.15 L633.70,695.45 L629.09,694.63 L624.54,693.70 L620.07,692.64 L615.68,691.47 L611.39,690.19 L607.21,688.80 L603.14,687.30 L599.18,685.69 L595.36,683.99 L591.68,682.19 L588.13,680.29 L584.74,678.31 L581.51,676.24 L578.44,674.08 L575.55,671.85 L572.83,669.55 L570.29,667.18 L567.94,664.75 L565.78,662.25 L563.81,659.71 L562.05,657.11 L560.49,654.48 L559.14,651.80 L558.00,649.09" stroke-width="2.2" fill="none"/>
<path d="M741.72,548.70 L742.22,550.17 L742.63,551.66 L742.97,553.14 L743.21,554.63 L743.38,556.12 L743.46,557.60 L743.46,559.08 L743.37,560.56 L743.19,562.03 L742.94,563.49 L742.60,564.95 L742.17,566.39 L741.66,567.82 L741.07,569.23 L740.40,570.63 L739.65,572.02 L738.82,573.38 L737.90,574.73 L736.91,576.05 L735.84,577.35 L734.69,578.62 L733.47,579.88 L732.18,581.10 L730.81,582.29 L729.37,583.46 L727.87,584.60 L726.29,585.70 L724.65,586.77 L722.94,587.81 L721.17,588.81 L719.34,589.77 L717.45,590.70 L715.50,591.59 L713.50,592.44 L711.45,593.25 L709.34,594.02 L707.19,594.75 L704.99,595.43 L702.75,596.07 L700.47,596.67 L698.14,597.22 L695.78,597.73 L693.39,598.19 L690.96,598.61 L688.51,598.98 L686.03,599.30 L683.52,599.58 L681.00,599.80 L678.46,599.98 L675.90,600.11 L673.32,600.20 L670.74,600.23 L668.15,600.22 L665.55,600.15 L662.96,600.04 L660.36,599.88 L657.77,599.68 L655.18,599.42 L652.60,599.12 L650.04,598.77 L647.48,598.38 L644.95,597.93 L642.43,597.45 L639.94,596.91 L637.47,596.33 L635.03,595.71 L632.62,595.04 L630.25,594.34 L627.90,593.58 L625.60,592.79 L623.34,591.96 L621.11,591.09 L618.94,590.17 L616.81,589.22 L614.73,588.24 L612.70,587.22 L610.73,586.16 L608.81,585.07 L606.95,583.95 L605.15,582.80 L603.41,581.61 L601.73,580.40 L600.12,579.16 L598.58,577.90 L597.11,576.61 L595.70,575.29 L594.37,573.96 L593.11,572.60 L591.93,571.23 L590.82,569.83 L589.79,568.42 L588.84,567.00 L587.96,565.56 L587.17,564.12 L586.46,562.66 L585.82,561.19 L585.27,559.71 L584.81,558.23 L584.42,556.75 L584.13,555.26 L583.91,553.78 L583.78,552.29 L583.73,550.81 L583.77,549.33 L583.89,547.85 L584.10,546.38 L584.39,544.92 L584.76,543.48 L585.22,542.04 L585.76,540.61 L586.38,539.21 L587.09,537.81 L587.87,536.44 L588.74,535.08 L589.68,533.74 L590.71,532.43 L591.81,531.14 L592.98,529.87 L594.23,528.63 L595.56,527.42" stroke-width="1.5" fill="none"/>
<path d="M702.66,516.59 L704.63,517.34 L706.57,518.11 L708.47,518.91 L710.33,519.75 L712.16,520.61 L713.95,521.50 L715.69,522.41 L717.40,523.36 L719.06,524.32 L720.67,525.31 L722.24,526.33 L723.77,527.37 L725.24,528.43 L726.66,529.51 L728.03,530.61 L729.35,531.73 L730.62,532.87 L731.83,534.03 L732.98,535.20 L734.08,536.39 L735.12,537.60 L736.11,538.82 L737.03,540.05 L737.90,541.29 L738.70,542.54 L739.45,543.81 L740.13,545.08 L740.75,546.36 L741.31,547.64 L741.80,548.93" stroke-width="1.3" fill="none"/>
<path d="M647,700.5 Q650,703.6 656,703.8 L666,703.8 Q672,703.5 677,698.2" stroke-width="1.3" fill="none"/>
<path d="M574.30,671.00 L579.50,713.80 L632.10,742.20 L752.50,768.10 L792.50,745.00 L749.20,675.80" stroke-width="1.5" fill="none"/>
<rect x="640.20" y="745.20" width="5.80" height="3.60" fill="#000" stroke="none" stroke-width="0"/>
<rect x="639.00" y="697.00" width="7.60" height="34.00" fill="#000" stroke="none" stroke-width="0"/>
<path d="M639,730 L633.6,736 Q633.6,740 642.8,740 Q652.2,740 652.2,736 L646.6,730 Z" stroke-width="1" fill="#000"/>
<rect x="636.50" y="736.50" width="3.00" height="1.60" fill="#fff" stroke="none" stroke-width="0"/>
<rect x="641.50" y="736.50" width="3.00" height="1.60" fill="#fff" stroke="none" stroke-width="0"/>
<rect x="646.00" y="736.50" width="3.00" height="1.60" fill="#fff" stroke="none" stroke-width="0"/>
<ellipse cx="741.50" cy="682.80" rx="5.20" ry="3.60" stroke-width="1.2" fill="#000"/>
<rect x="739.20" y="682.40" width="4.60" height="1.50" fill="#fff" stroke="none" stroke-width="0"/>
<ellipse cx="751.40" cy="744.20" rx="3.60" ry="2.40" stroke-width="1.5" fill="none"/>
<ellipse cx="780.00" cy="745.20" rx="3.60" ry="2.40" stroke-width="1.5" fill="none"/>
<ellipse cx="754.70" cy="760.00" rx="3.60" ry="2.40" stroke-width="1.5" fill="none"/>
<path d="M592.90,513.80 L592.90,521.20 A14.3,8.3 0 0 0 621.50,521.20 L621.50,513.80 A14.3,8.3 0 0 0 592.90,513.80 Z" stroke-width="1.5" fill="#fff"/>
<ellipse cx="607.20" cy="513.80" rx="14.30" ry="8.30" stroke-width="1.5" fill="#fff"/>
<path d="M593.90,515.30 A13.3,7.300000000000001 0 0 0 620.50,515.30" stroke-width="2.2" fill="none"/>
<path d="M725.50,534.00 L725.50,541.60 A14,8.2 0 0 0 753.50,541.60 L753.50,534.00 A14,8.2 0 0 0 725.50,534.00 Z" stroke-width="1.5" fill="#fff"/>
<ellipse cx="739.50" cy="534.00" rx="14.00" ry="8.20" stroke-width="1.5" fill="#fff"/>
<path d="M726.50,535.50 A13,7.199999999999999 0 0 0 752.50,535.50" stroke-width="2.2" fill="none"/>
<path d="M745,553.2 L754.5,553.2 L754.5,545" stroke-width="1.4" fill="none"/>
<path d="M628.4,597 L628.4,603 Q629.5,611.5 636,615.3 L648.5,615.3 Q655,611.5 656.5,603 L656.5,597" stroke-width="1.6" fill="#fff"/>
<path d="M628.40,589.60 L628.40,597.80 A14,8.2 0 0 0 656.40,597.80 L656.40,589.60 A14,8.2 0 0 0 628.40,589.60 Z" stroke-width="1.5" fill="#fff"/>
<ellipse cx="642.40" cy="589.60" rx="14.00" ry="8.20" stroke-width="1.5" fill="#fff"/>
<path d="M629.40,591.10 A13,7.199999999999999 0 0 0 655.40,591.10" stroke-width="2.2" fill="none"/>
</g>
</svg>
</body></html>
